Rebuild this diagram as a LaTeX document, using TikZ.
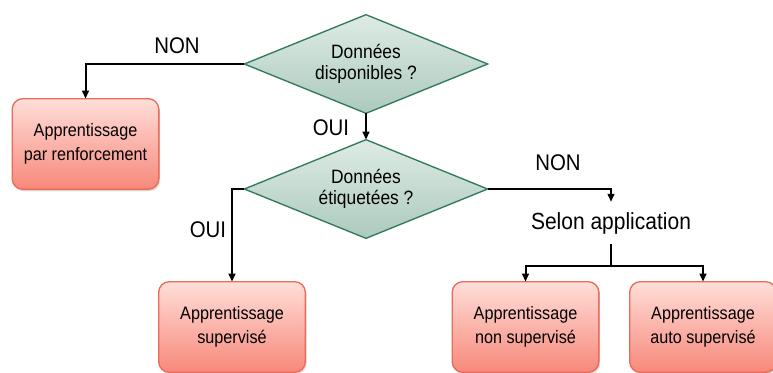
\documentclass[tikz,border=0pt]{standalone}
\usepackage{fontspec}
\setmainfont[FakeStretch=0.9]{Liberation Sans}
\usepackage{tikz}
\usetikzlibrary{shapes.geometric,arrows.meta,shadows}

\definecolor{boxtop}{RGB}{255,222,217}
\definecolor{boxbot}{RGB}{247,136,122}
\definecolor{boxline}{RGB}{232,108,88}
\definecolor{dectop}{RGB}{222,235,228}
\definecolor{decbot}{RGB}{172,202,189}
\definecolor{decline}{RGB}{46,122,90}

\begin{document}
\begin{tikzpicture}[x=0.75pt,y=-0.75pt,
        decision/.style={diamond, draw=decline, line width=1pt, top color=dectop, bottom color=decbot,
            inner sep=0pt, outer sep=0pt, aspect=2.4, minimum width=182.5pt, minimum height=74pt,
            align=center, font=\fontsize{14.5}{15.75}\selectfont},
        result/.style={rectangle, rounded corners=8pt, draw=boxline, line width=1pt, top color=boxtop, bottom color=boxbot,
            drop shadow={opacity=0.25, shadow xshift=1pt, shadow yshift=-1.5pt},
            inner sep=0pt, outer sep=0pt, minimum width=110pt, minimum height=68pt,
            align=center, font=\fontsize{13.5}{18}\selectfont},
        answer/.style={font=\fontsize{17}{20}\selectfont},
        link/.style={line width=1.5pt, -{Triangle[length=6pt,width=5pt]}},
        plain/.style={line width=1.5pt}]
        \useasboundingbox (0,0) rectangle (773,372);
        % questions
        \node [decision] (q1) at (366, 64) {Données\\disponibles ?};
        \node [decision] (q2) at (366, 189) {Données\\étiquetées ?};
        % results
        \node [result] (rl) at (85.5, 144) {Apprentissage\\par renforcement};
        \node [result] (sup) at (232, 327) {Apprentissage\\supervisé};
        \node [result] (nsup) at (525.5, 327) {Apprentissage\\non supervisé};
        \node [result] (asup) at (703, 327) {Apprentissage\\auto supervisé};
        \node [font=\fontsize{17.5}{20}\selectfont, inner xsep=0pt, inner ysep=7.5pt] (sel) at (611, 223) {Selon application};
        \coordinate (split) at (611, 266);
        % connectors
        \draw [link] (q1.west) -| (rl.north);
        \draw [link] (q1.south) -- (q2.north);
        \draw [link] (q2.west) -| (sup.north);
        \draw [link] (q2.east) -| (sel.north);
        \draw [plain] (sel.south) -- (split);
        \draw [link] (split) -| (nsup.north);
        \draw [link] (split) -| (asup.north);
        % answers
        \node [answer] at (177, 46) {NON};
        \node [answer] at (331, 128) {OUI};
        \node [answer] at (208, 230) {OUI};
        \node [answer] at (558, 163) {NON};
    \end{tikzpicture}
\end{document}
